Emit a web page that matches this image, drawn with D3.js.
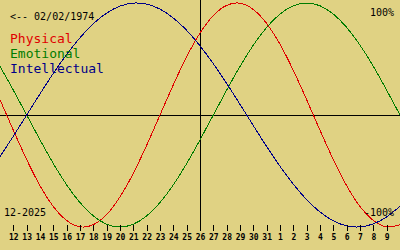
<!DOCTYPE html>
<html>
<head>
<meta charset="utf-8">
<script src="https://cdn.jsdelivr.net/npm/d3@7"></script>
<style>
  body { margin: 0; background: #e0d283; }
  svg { display: block; }
  text { font-family: "DejaVu Sans Mono", monospace; }
</style>
</head>
<body>
<div id="chart"></div>
<script>
// days shown: Dec 11 2025 .. Jan 10 2026, centred on Dec 26
const days = d3.timeDay.range(new Date(2025, 11, 11), new Date(2026, 0, 11))
const tickDays = days.slice(1, -1)

// biorhythm values, one per day
const physical = [0.136, -0.136, -0.398, -0.631, -0.817, -0.942, -0.998, -0.979, -0.888, -0.731, -0.520,
  -0.270, 0, 0.270, 0.520, 0.731, 0.888, 0.979, 0.998, 0.942, 0.817, 0.631, 0.398, 0.136, -0.136,
  -0.398, -0.631, -0.817, -0.942, -0.998, -0.979]
const emotional = [0.434, 0.222, 0, -0.222, -0.434, -0.624, -0.782, -0.901, -0.975, -1, -0.975,
  -0.901, -0.782, -0.624, -0.434, -0.222, 0, 0.222, 0.434, 0.624, 0.782, 0.901, 0.975, 1, 0.975,
  0.901, 0.782, 0.624, 0.434, 0.222, 0]
const intellectual = [-0.372, -0.189, 0, 0.189, 0.372, 0.541, 0.690, 0.815, 0.910, 0.972, 0.999,
  0.990, 0.945, 0.866, 0.756, 0.618, 0.458, 0.282, 0.095, -0.095, -0.282, -0.458, -0.618, -0.756,
  -0.866, -0.945, -0.990, -0.999, -0.972, -0.910, -0.815]

const series = [
  { name: 'Physical', values: physical, color: '#e00000' },
  { name: 'Emotional', values: emotional, color: '#007c00' },
  { name: 'Intellectual', values: intellectual, color: '#000088' }
]

const width = 400, height = 250
const today = new Date(2025, 11, 26)

const x = d3.scaleTime().domain([days[0], days[days.length - 1]]).range([0, width])
const y = d3.scaleLinear().domain([-1, 1]).range([227, 3])

const svg = d3.select('#chart').append('svg')
  .attr('width', width)
  .attr('height', height)

svg.append('rect')
  .attr('width', width)
  .attr('height', height)
  .attr('fill', '#e0d283')

// cross lines
svg.append('line')
  .attr('x1', 0).attr('x2', width)
  .attr('y1', y(0)).attr('y2', y(0))
  .attr('stroke', '#000')
  .attr('shape-rendering', 'crispEdges')

svg.append('line')
  .attr('x1', x(today)).attr('x2', x(today))
  .attr('y1', 0).attr('y2', 229)
  .attr('stroke', '#000')
  .attr('shape-rendering', 'crispEdges')

// curves
const line = d3.line()
  .x((d, i) => x(days[i]))
  .y(d => y(d))
  .curve(d3.curveNatural)

series.forEach(s => {
  svg.append('path')
    .datum(s.values)
    .attr('d', line)
    .attr('fill', 'none')
    .attr('stroke', s.color)
    .attr('stroke-width', 1)
    .attr('shape-rendering', 'crispEdges')
})

// day axis
const axis = svg.append('g')
  .attr('transform', 'translate(0,225)')
  .call(d3.axisBottom(x)
    .tickValues(tickDays)
    .tickFormat(d3.timeFormat('%-d'))
    .tickSize(6)
    .tickPadding(3))

axis.select('.domain').remove()
axis.selectAll('line').attr('shape-rendering', 'crispEdges')
axis.selectAll('text')
  .style('font-family', '"DejaVu Sans Mono", monospace')
  .style('font-size', '8px')
  .style('font-weight', 'bold')

// labels
svg.append('text')
  .attr('x', 10).attr('y', 20)
  .style('font-size', '10px')
  .text('<-- 02/02/1974')

series.forEach((s, i) => {
  svg.append('text')
    .attr('x', 10)
    .attr('y', 43 + i * 15)
    .attr('fill', s.color)
    .style('font-size', '13px')
    .text(s.name)
})

svg.append('text')
  .attr('x', 394).attr('y', 16)
  .attr('text-anchor', 'end')
  .style('font-size', '10px')
  .text('100%')

svg.append('text')
  .attr('x', 394).attr('y', 216)
  .attr('text-anchor', 'end')
  .style('font-size', '10px')
  .text('-100%')

svg.append('text')
  .attr('x', 4).attr('y', 216)
  .style('font-size', '10px')
  .text('12-2025')
</script>
</body>
</html>
